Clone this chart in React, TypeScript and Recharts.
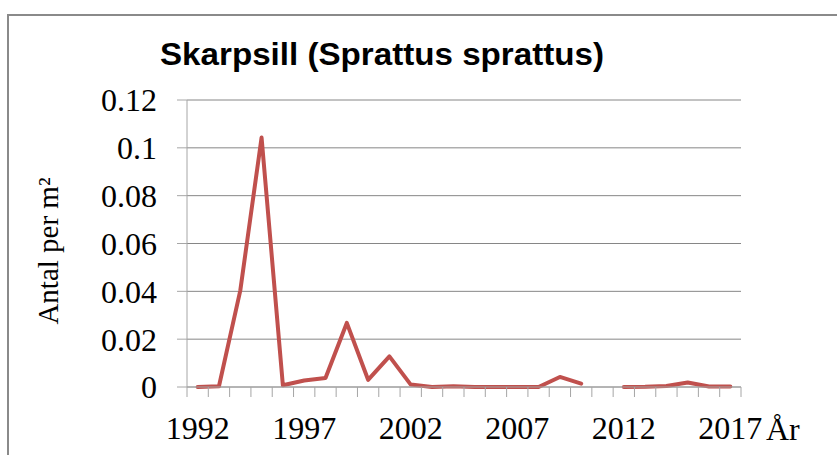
import React from 'react';
import { LineChart, Line, XAxis, YAxis, CartesianGrid } from 'recharts';

const years = [1992, 1993, 1994, 1995, 1996, 1997, 1998, 1999, 2000, 2001, 2002, 2003, 2004, 2005, 2006, 2007, 2008, 2009, 2010, 2011, 2012, 2013, 2014, 2015, 2016, 2017];
const antal: (number | null)[] = [0, 0.0003, 0.0403, 0.1043, 0.0007, 0.0027, 0.0038, 0.0268, 0.003, 0.0128, 0.001, 0, 0.0003, 0, 0, 0, 0, 0.0042, 0.0014, null, 0, 0.0001, 0.0004, 0.0019, 0.0002, 0.0002];
const yTicks = [0, 0.02, 0.04, 0.06, 0.08, 0.1, 0.12];
const labelYears = [1992, 1997, 2002, 2007, 2012, 2017];
const halfYearTicks = [...years.map((y) => y - 0.5), years[years.length - 1] + 0.5];

const title = 'Skarpsill (Sprattus sprattus)';
const yLabel = 'Antal per m²';
const xLabel = 'År';

const data = years.map((year, i) => ({ year, antal: antal[i] }));

const serif = '"Liberation Serif", "Times New Roman", serif';
const axisGray = '#a6a6a6';
const gridGray = '#868686';

export default function App() {
  return (
    <div style={{ position: 'absolute', left: 0, top: 0, width: 837, height: 455, background: '#fff', overflow: 'hidden' }}>
      <div style={{ position: 'absolute', left: 7, top: 14, width: 860, height: 470, border: '2px solid #8a8a8a' }} />
      <div style={{ position: 'absolute', left: 0, top: 0 }}>
        <LineChart width={837} height={455} data={data} margin={{ top: 100, right: 96, bottom: 0, left: 0 }}>
          <CartesianGrid xAxisId="a" vertical={false} stroke={gridGray} strokeWidth={1} />
          <XAxis
            xAxisId="b"
            dataKey="year"
            type="number"
            domain={[1991.5, 2017.5]}
            ticks={labelYears}
            interval={0}
            height={58}
            tickSize={0}
            tickMargin={19}
            axisLine={false}
            tickLine={false}
            tick={{ fill: '#000', fontSize: 32, fontFamily: serif }}
          />
          <XAxis
            xAxisId="a"
            dataKey="year"
            type="number"
            domain={[1991.5, 2017.5]}
            ticks={halfYearTicks}
            interval={0}
            height={10}
            tickSize={10}
            axisLine={{ stroke: axisGray }}
            tickLine={{ stroke: axisGray }}
            tick={() => <g />}
          />
          <YAxis
            type="number"
            domain={[0, 0.12]}
            ticks={yTicks}
            interval={0}
            width={187}
            tickSize={10}
            tickMargin={20}
            tickFormatter={(v: number) => String(v)}
            axisLine={{ stroke: axisGray }}
            tickLine={{ stroke: axisGray }}
            tick={{ fill: '#000', fontSize: 32, fontFamily: serif }}
          />
          <Line
            xAxisId="a"
            type="linear"
            dataKey="antal"
            stroke="#C0504D"
            strokeWidth={4}
            strokeLinejoin="round"
            strokeLinecap="round"
            dot={false}
            activeDot={false}
            connectNulls={false}
            isAnimationActive={false}
          />
        </LineChart>
      </div>
      <svg width={837} height={455} style={{ position: 'absolute', left: 0, top: 0, pointerEvents: 'none' }}>
        <text x={160} y={65} fontFamily='"Liberation Sans", Arial, sans-serif' fontWeight="bold" fontSize={31} fill="#000" textLength={444} lengthAdjust="spacingAndGlyphs">
          {title}
        </text>
        <text x={58} y={251} transform="rotate(-90 58 251)" textAnchor="middle" fontFamily={serif} fontSize={29} fill="#000">
          {yLabel}
        </text>
        <text x={766} y={440} fontFamily={serif} fontSize={32} fill="#000">
          {xLabel}
        </text>
      </svg>
    </div>
  );
}
